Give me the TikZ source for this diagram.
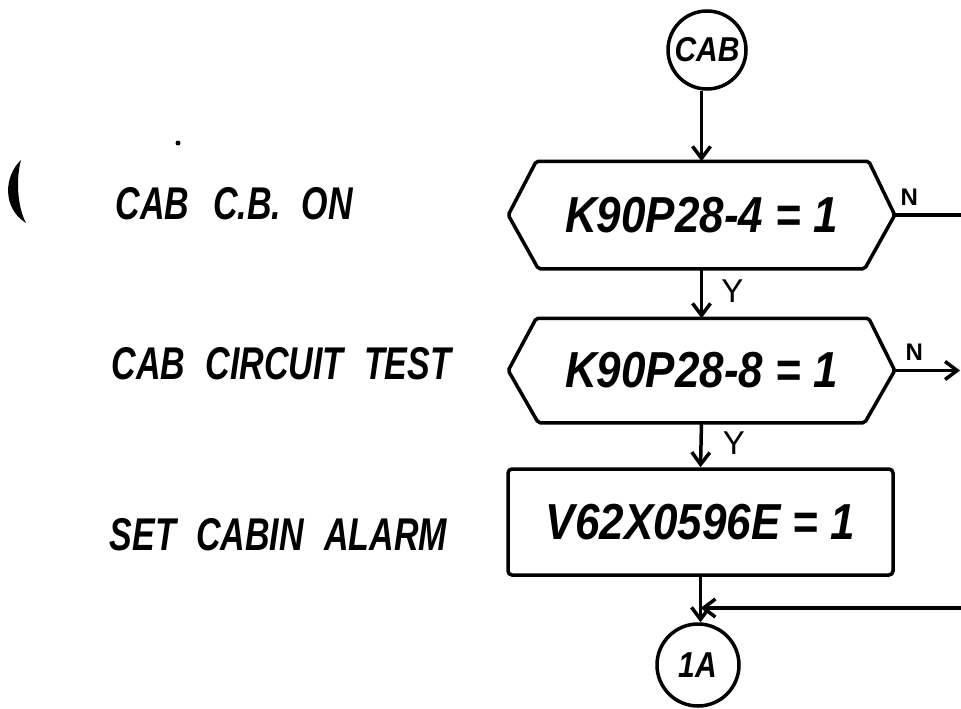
\documentclass[tikz,border=0pt]{standalone}
\usepackage{fontspec}
\usepackage{graphicx}
\setmainfont{Liberation Sans}
\usetikzlibrary{arrows.meta}
\newcommand{\tallbox}[2]{\scalebox{1}[#1]{#2}}
\begin{document}
\begin{tikzpicture}[x=1pt,y=-1pt,line width=3.5pt,
  hexbox/.style={draw=none,minimum width=383pt,minimum height=104pt,inner sep=0pt},
  actbox/.style={draw,rounded corners=4pt,minimum width=385pt,minimum height=106pt,inner sep=0pt},
  term/.style={draw,circle,inner sep=0pt},
  flow/.style={-{Straight Barb[length=12pt,width=18pt]}},
  bigtxt/.style={font=\fontsize{44}{44}\selectfont\bfseries\itshape},
  sidetxt/.style={font=\fontsize{34}{34}\selectfont\bfseries\itshape,anchor=west,inner sep=0pt},
  termtxt/.style={font=\fontsize{30}{30}\selectfont\bfseries\itshape},
  ytxt/.style={font=\fontsize{33}{33}\selectfont,inner sep=0pt},
  ntxt/.style={font=\fontsize{24}{24}\selectfont\bfseries,inner sep=0pt}]
\useasboundingbox (0,0) rectangle (961,709);
\fill[white] (0,0) rectangle (961,709);

% scan marks
\fill (21,160) .. controls (4,176) and (2,208) .. (26,223) .. controls (17,206) and (16,178) .. (21,160) -- cycle;
\fill (178,143) circle (2.5pt);

% nodes
\node[term,minimum size=78pt,termtxt] (cab) at (707,50) {\tallbox{1.15}{CAB}};
\node[hexbox,bigtxt] (h1) at (701.5,215) {\tallbox{1.15}{K90P28-4 = 1}};
\node[hexbox,minimum height=101pt,bigtxt] (h2) at (701.5,370.5) {\tallbox{1.15}{K90P28-8 = 1}};
\node[actbox,bigtxt] (act) at (700.5,522) {\tallbox{1.15}{V62X0596E = 1}};
\node[term,minimum size=82pt,termtxt] (oneA) at (698,665) {\tallbox{1.2}{1A}};

% hexagon outlines
\draw[rounded corners=2pt] ([xshift=28pt]h1.north west) -- ([xshift=-26pt]h1.north east) -- (h1.east)
  -- ([xshift=-30pt]h1.south east) -- ([xshift=30pt]h1.south west) -- (h1.west) -- cycle;
\draw[rounded corners=2pt] ([xshift=28pt]h2.north west) -- ([xshift=-26pt]h2.north east) -- (h2.east)
  -- ([xshift=-30pt]h2.south east) -- ([xshift=30pt]h2.south west) -- (h2.west) -- cycle;

% side labels
\node[sidetxt] (l1) at (114,204) {\tallbox{1.35}{CAB\hspace{0.7em}C.B.\hspace{0.6em}ON}};
\node[sidetxt] (l2) at (110,364) {\tallbox{1.35}{CAB\hspace{0.6em}CIRCUIT\hspace{0.6em}TEST}};
\node[sidetxt] (l3) at (108,535) {\tallbox{1.35}{SET\hspace{0.6em}CABIN\hspace{0.6em}ALARM}};

% connectors
\coordinate (r1) at (961,215);
\coordinate (r2) at (960,370.5);
\coordinate (r3) at (961,608);
\draw[flow] (h1.north |- cab.south) -- (h1.north);
\draw[flow] (h1.south) -- (h2.north) node[ytxt,pos=0.45,anchor=west,xshift=18pt] {Y};
\draw[flow] (h2.south) -- (act.north) node[ytxt,pos=0.45,anchor=west,xshift=20pt] {Y};
\draw[flow] (act.south) -- (act.south |- oneA.north);
\draw (h1.east) -- (r1) node[ntxt,pos=0.22,anchor=south,yshift=8pt] {N};
\draw[flow] (h2.east) -- (r2) node[ntxt,pos=0.3,anchor=south,yshift=8pt] {N};
\draw[flow] (r3) -- (act.south |- r3);
\end{tikzpicture}
\end{document}
